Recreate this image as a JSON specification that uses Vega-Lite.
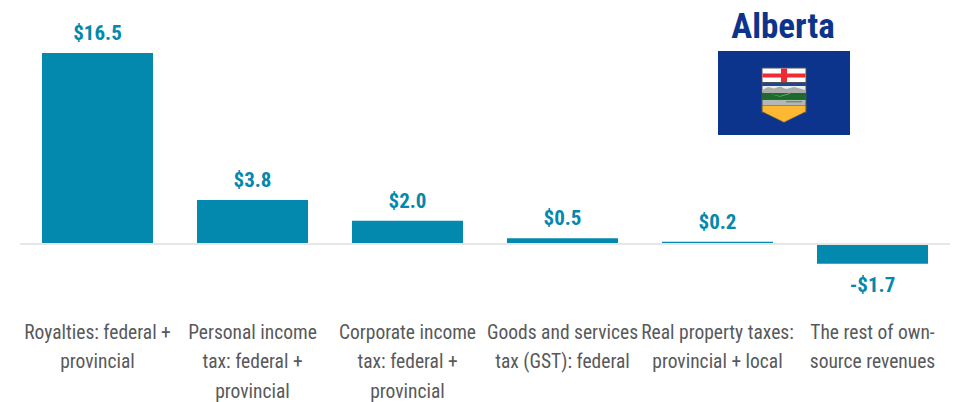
{
"$schema":"https://vega.github.io/schema/vega-lite/v6.json",
"width":930,"height":300,
"autosize":{"type":"none"},
"padding":{"left":20,"right":6,"top":0,"bottom":102},
"background":"white",
"config":{"view":{"stroke":null},"font":"Roboto Condensed, DejaVu Sans Condensed, sans-serif"},
"datasets":{
"revenues":[
{"category":"Royalties: federal +|provincial","value":16.5,"label":"$16.5"},
{"category":"Personal income|tax: federal +|provincial","value":3.8,"label":"$3.8"},
{"category":"Corporate income|tax: federal +|provincial","value":2.0,"label":"$2.0"},
{"category":"Goods and services|tax (GST): federal","value":0.5,"label":"$0.5"},
{"category":"Real property taxes:|provincial + local","value":0.2,"label":"$0.2"},
{"category":"The rest of own-|source revenues","value":-1.7,"label":"-$1.7"}
],
"flagBlocks":[
{"part":"field","x":0,"x2":132,"y":0,"y2":84},
{"part":"outline","x":43.5,"x2":88.5,"y":16.5,"y2":62},
{"part":"white","x":44.5,"x2":87.5,"y":17.5,"y2":31},
{"part":"red","x":44.5,"x2":87.5,"y":22.5,"y2":26.5},
{"part":"red","x":63,"x2":69,"y":17.5,"y2":31},
{"part":"fieldblue","x":44.5,"x2":87.5,"y":32,"y2":35},
{"part":"sky","x":44.5,"x2":87.5,"y":35,"y2":42},
{"part":"green","x":44.5,"x2":87.5,"y":41,"y2":48},
{"part":"wheat","x":44.5,"x2":87.5,"y":49,"y2":54},
{"part":"green","x":68,"x2":84,"y":50.5,"y2":51.2}
],
"flagShapes":[
{"part":"outline","x":43.5,"y":54,"y2":61},
{"part":"outline","x":66,"y":54,"y2":72},
{"part":"outline","x":88.5,"y":54,"y2":61},
{"part":"gold","x":44.5,"y":54.5,"y2":60.5},
{"part":"gold","x":66,"y":54.5,"y2":71},
{"part":"gold","x":87.5,"y":54.5,"y2":60.5},
{"part":"mountain","x":44.5,"y":39,"y2":42},
{"part":"mountain","x":50,"y":36,"y2":42},
{"part":"mountain","x":56,"y":37.5,"y2":42},
{"part":"mountain","x":62,"y":35.5,"y2":42},
{"part":"mountain","x":68,"y":38,"y2":42},
{"part":"mountain","x":76,"y":36,"y2":42},
{"part":"mountain","x":87.5,"y":39,"y2":42},
{"part":"hill","x":52,"y":43,"y2":43},
{"part":"hill","x":62,"y":45,"y2":45.8},
{"part":"hill","x":72,"y":42,"y2":43}
],
"flagTitle":[{"name":"Alberta","x":65,"y":-24}]
},
"resolve":{"scale":{"x":"independent","y":"independent","color":"independent"}},
"layer":[
{"data":{"name":"revenues"},"mark":{"type":"bar","color":"#0388ae"},
"encoding":{
"x":{"field":"category","type":"nominal","sort":null,"title":null,
"scale":{"paddingInner":0.284,"paddingOuter":0.142},
"axis":{"orient":"bottom","domain":false,"ticks":false,"labelAngle":0,"labelPadding":23,"labelLimit":0,"labelFontSize":19.5,"labelColor":"#58595b","labelLineHeight":29.5,"labelFont":"Roboto Condensed, DejaVu Sans Condensed, sans-serif","labelExpr":"split(datum.label,'|')","labelBaseline":"top","labelAlign":"center"}},
"y":{"field":"value","type":"quantitative","title":null,"axis":null,"scale":{"domain":[-4.836,21.07],"nice":false,"zero":false}}}},
{"data":{"name":"revenues"},"mark":{"type":"rule","color":"#e6e6e6","strokeWidth":2},
"encoding":{"y":{"datum":0,"type":"quantitative","axis":null,"scale":{"domain":[-4.836,21.07],"nice":false,"zero":false}}}},
{"data":{"name":"revenues"},"transform":[{"filter":"datum.value>=0"}],"mark":{"type":"text","fontWeight":"bold","fontSize":21,"color":"#0388ae","baseline":"middle","dy":-19},
"encoding":{
"x":{"field":"category","type":"nominal","sort":null,"axis":null,"scale":{"domain":{"data":"revenues","field":"category"},"paddingInner":0.284,"paddingOuter":0.142}},
"y":{"field":"value","type":"quantitative","axis":null,"scale":{"domain":[-4.836,21.07],"nice":false,"zero":false}},
"text":{"field":"label"}}},
{"data":{"name":"revenues"},"transform":[{"filter":"datum.value<0"}],"mark":{"type":"text","fontWeight":"bold","fontSize":21,"color":"#0388ae","baseline":"middle","dy":22},
"encoding":{
"x":{"field":"category","type":"nominal","sort":null,"axis":null,"scale":{"domain":["Royalties: federal +|provincial","Personal income|tax: federal +|provincial","Corporate income|tax: federal +|provincial","Goods and services|tax (GST): federal","Real property taxes:|provincial + local","The rest of own-|source revenues"],"paddingInner":0.284,"paddingOuter":0.142}},
"y":{"field":"value","type":"quantitative","axis":null,"scale":{"domain":[-4.836,21.07],"nice":false,"zero":false}},
"text":{"field":"label"}}},
{"data":{"name":"flagBlocks"},"mark":{"type":"rect"},
"encoding":{
"x":{"field":"x","type":"quantitative","axis":null,"scale":{"domain":[-698,232],"nice":false,"zero":false}},
"x2":{"field":"x2"},
"y":{"field":"y","type":"quantitative","axis":null,"scale":{"domain":[-51,249],"reverse":true,"nice":false,"zero":false}},
"y2":{"field":"y2"},
"color":{"field":"part","type":"nominal","legend":null,"scale":{"domain":["field","fieldblue","outline","white","red","sky","green","wheat"],"range":["#0c348c","#1f4596","#4d5257","#ffffff","#ee2a32","#e9eef2","#1c6b2e","#b4b7b4"]}}}},
{"data":{"name":"flagShapes"},"mark":{"type":"area","line":false},
"encoding":{
"x":{"field":"x","type":"quantitative","axis":null,"scale":{"domain":[-698,232],"nice":false,"zero":false}},
"y":{"field":"y","type":"quantitative","axis":null,"stack":null,"scale":{"domain":[-51,249],"reverse":true,"nice":false,"zero":false}},
"y2":{"field":"y2"},
"color":{"field":"part","type":"nominal","legend":null,"scale":{"domain":["outline","gold","mountain","hill"],"range":["#4d5257","#fdb833","#a9aca9","#7fa186"]}}}},
{"data":{"name":"flagTitle"},"mark":{"type":"text","fontWeight":"bold","fontSize":35,"color":"#0c348c","baseline":"middle"},
"encoding":{
"x":{"field":"x","type":"quantitative","axis":null,"scale":{"domain":[-698,232],"nice":false,"zero":false}},
"y":{"field":"y","type":"quantitative","axis":null,"scale":{"domain":[-51,249],"reverse":true,"nice":false,"zero":false}},
"text":{"field":"name"}}}
]
}
